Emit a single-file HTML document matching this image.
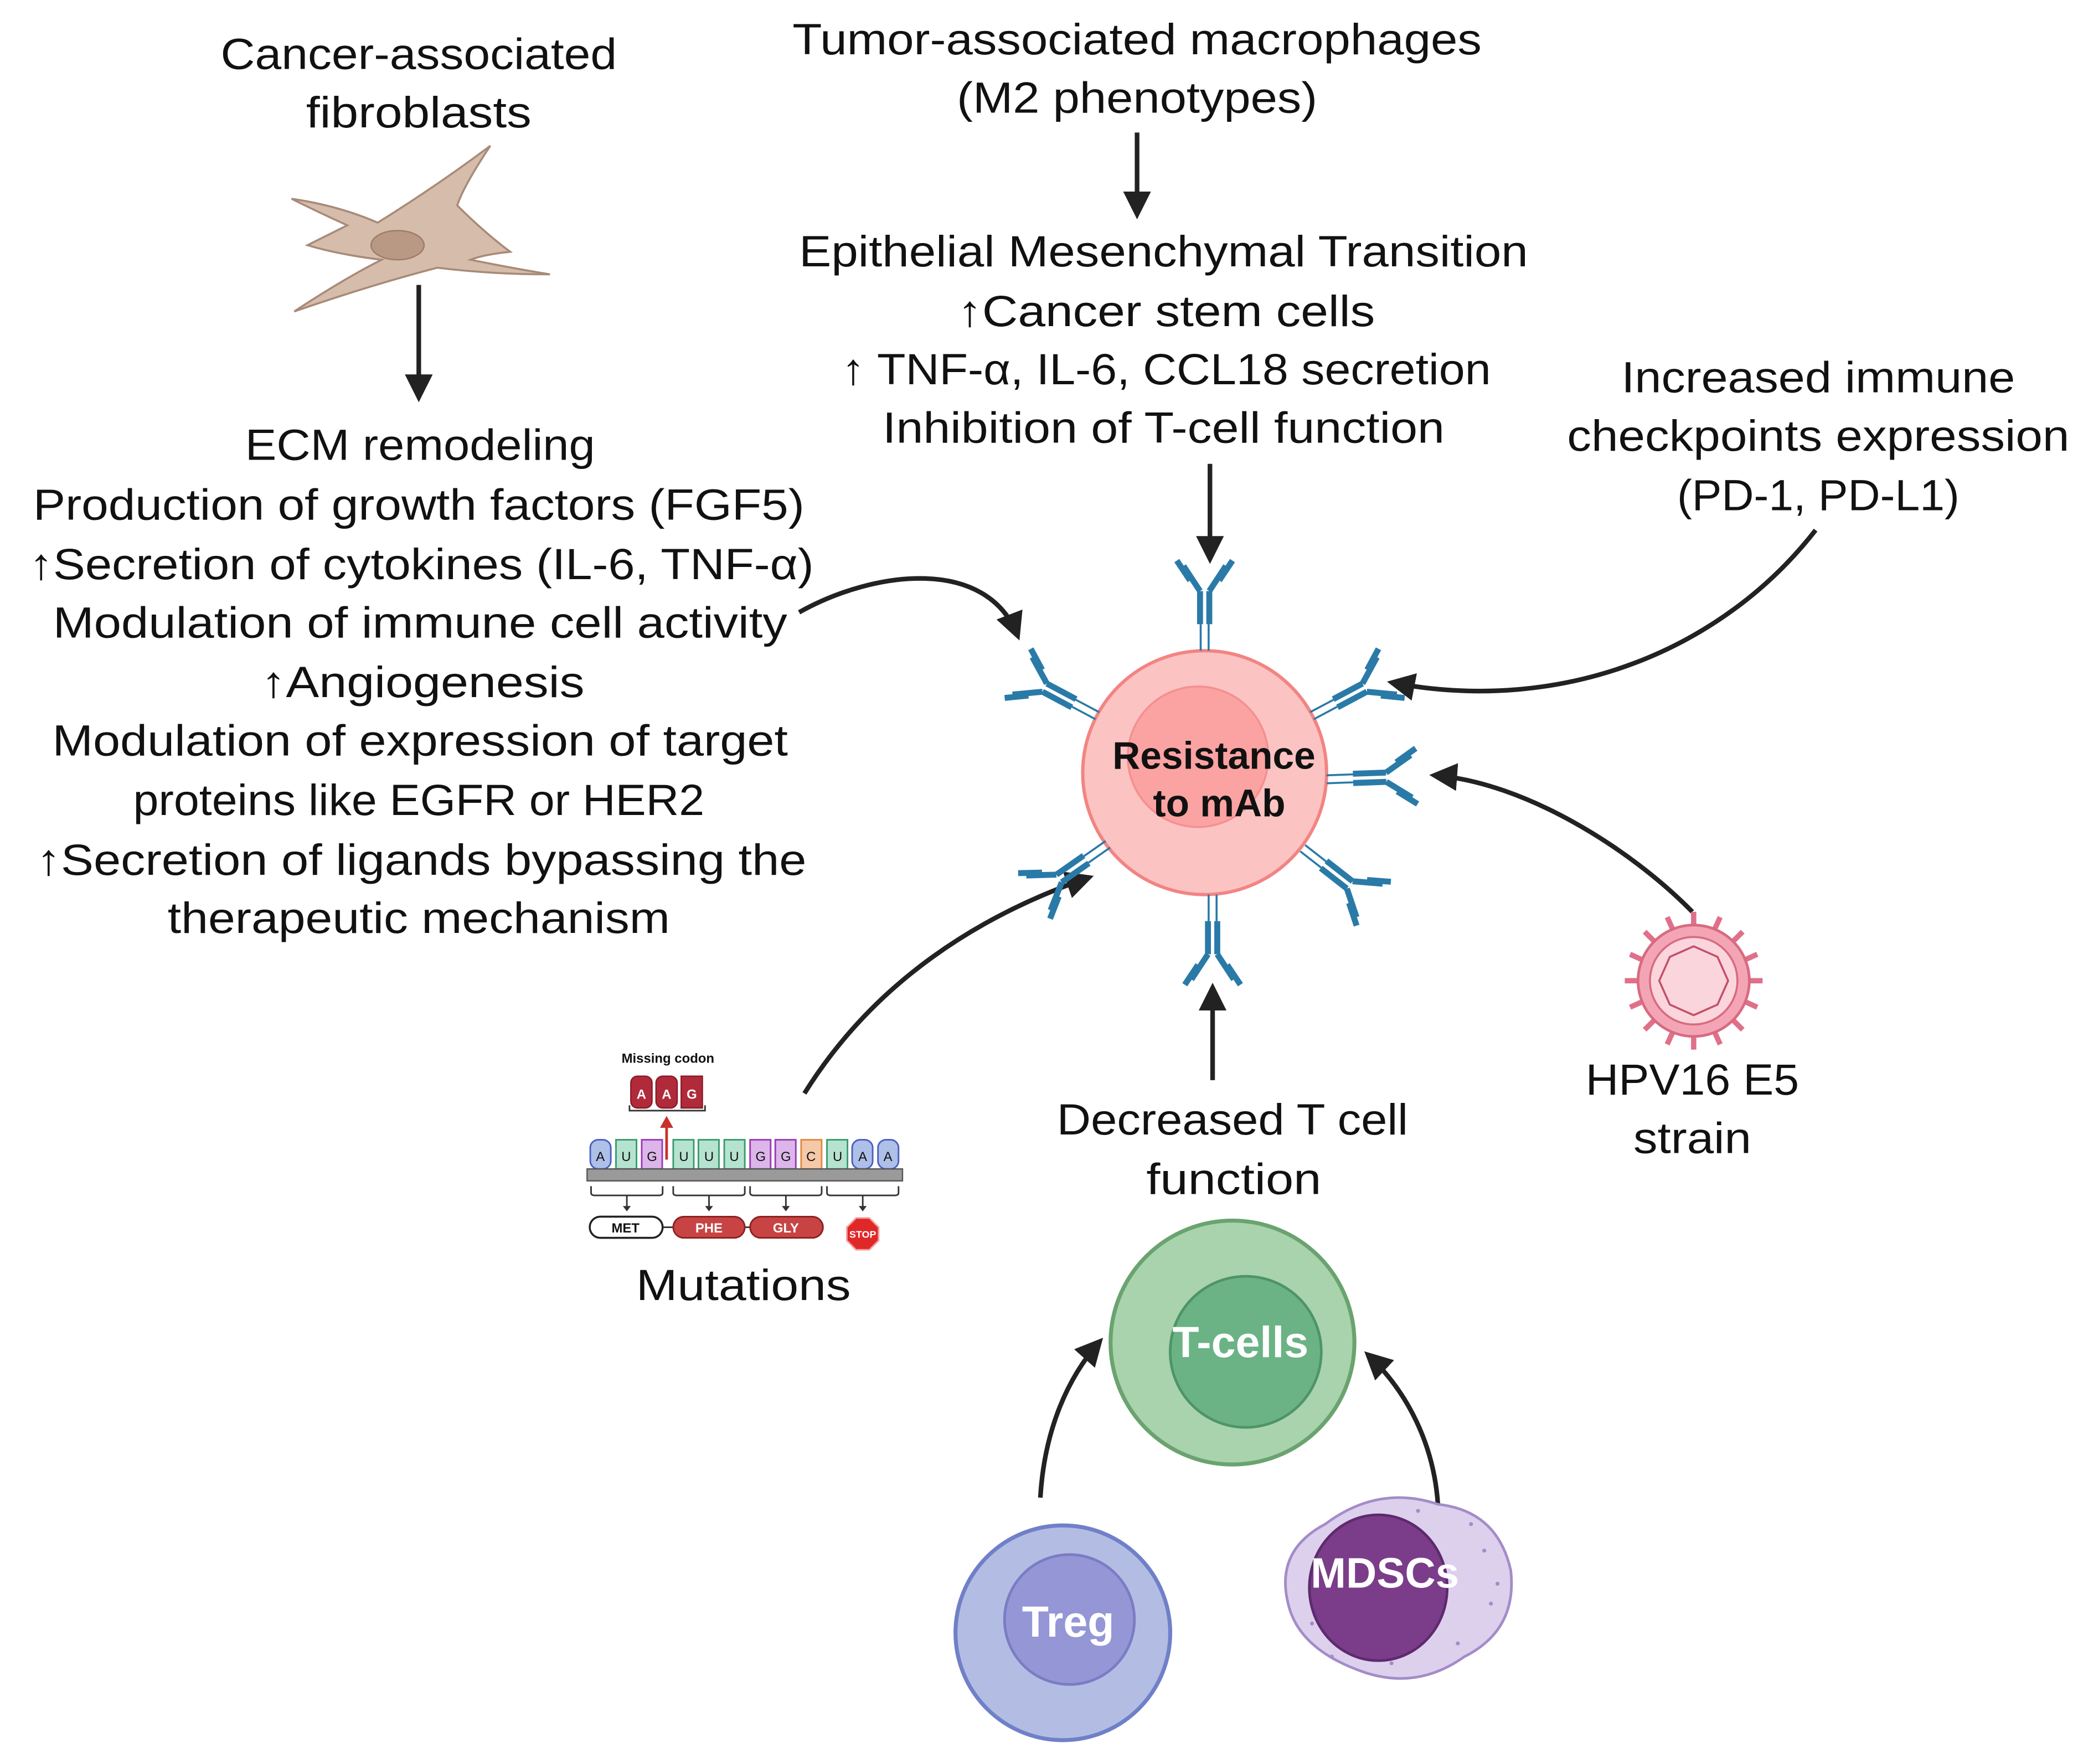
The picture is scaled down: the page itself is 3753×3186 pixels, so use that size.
<!DOCTYPE html>
<html><head><meta charset="utf-8"><style>
html,body{margin:0;padding:0;background:#fff;}
svg{display:block;}
text{font-family:"Liberation Sans",sans-serif;fill:#111;}
</style></head><body>
<svg width="3753" height="3186" viewBox="0 0 1568 1331" preserveAspectRatio="none" xmlns="http://www.w3.org/2000/svg">
<defs>
<marker id="ah" markerWidth="6" markerHeight="6" refX="5" refY="3" orient="auto" markerUnits="strokeWidth">
<path d="M0,0 L6,3 L0,6 z" fill="#222"/></marker>
<g id="ab" stroke="#2a7aa8" fill="none" stroke-linecap="butt">
<line x1="-3" y1="0" x2="-3" y2="-20" stroke-width="1.5"/>
<line x1="3" y1="0" x2="3" y2="-20" stroke-width="1.5"/>
<line x1="-3.5" y1="-20" x2="-3.5" y2="-45" stroke-width="4.5"/>
<line x1="3.5" y1="-20" x2="3.5" y2="-45" stroke-width="4.5"/>
<polyline points="-3.5,-45 -16,-64" stroke-width="4.5"/>
<polyline points="3.5,-45 16,-64" stroke-width="4.5"/>
<line x1="-11" y1="-53" x2="-21" y2="-68" stroke-width="4.5"/>
<line x1="11" y1="-53" x2="21" y2="-68" stroke-width="4.5"/>
</g>
</defs>
<rect width="1568" height="1331" fill="#fff"/>

<g font-size="33" text-anchor="middle">
<text x="316" y="52" textLength="299" lengthAdjust="spacingAndGlyphs">Cancer-associated</text>
<text x="316" y="96" textLength="170" lengthAdjust="spacingAndGlyphs">fibroblasts</text>
<text x="858" y="41" textLength="520" lengthAdjust="spacingAndGlyphs">Tumor-associated macrophages</text>
<text x="858" y="85" textLength="272" lengthAdjust="spacingAndGlyphs">(M2 phenotypes)</text>
<text x="878" y="201" textLength="550" lengthAdjust="spacingAndGlyphs">Epithelial Mesenchymal Transition</text>
<text x="880" y="246" textLength="315" lengthAdjust="spacingAndGlyphs">↑Cancer stem cells</text>
<text x="880" y="290" textLength="490" lengthAdjust="spacingAndGlyphs">↑ TNF-α, IL-6, CCL18 secretion</text>
<text x="878" y="334" textLength="424" lengthAdjust="spacingAndGlyphs">Inhibition of T-cell function</text>
<text x="1372" y="296" textLength="297" lengthAdjust="spacingAndGlyphs">Increased immune</text>
<text x="1372" y="340" textLength="379" lengthAdjust="spacingAndGlyphs">checkpoints expression</text>
<text x="1372" y="385" textLength="213" lengthAdjust="spacingAndGlyphs">(PD-1, PD-L1)</text>
<text x="317" y="347" textLength="264" lengthAdjust="spacingAndGlyphs">ECM remodeling</text>
<text x="316" y="392" textLength="582" lengthAdjust="spacingAndGlyphs">Production of growth factors (FGF5)</text>
<text x="318" y="437" textLength="592" lengthAdjust="spacingAndGlyphs">↑Secretion of cytokines (IL-6, TNF-α)</text>
<text x="317" y="481" textLength="554" lengthAdjust="spacingAndGlyphs">Modulation of immune cell activity</text>
<text x="319" y="526" textLength="244" lengthAdjust="spacingAndGlyphs">↑Angiogenesis</text>
<text x="317" y="570" textLength="555" lengthAdjust="spacingAndGlyphs">Modulation of expression of target</text>
<text x="316" y="615" textLength="431" lengthAdjust="spacingAndGlyphs">proteins like EGFR or HER2</text>
<text x="318" y="660" textLength="581" lengthAdjust="spacingAndGlyphs">↑Secretion of ligands bypassing the</text>
<text x="316" y="704" textLength="379" lengthAdjust="spacingAndGlyphs">therapeutic mechanism</text>
<text x="930" y="856" textLength="265" lengthAdjust="spacingAndGlyphs">Decreased T cell</text>
<text x="931" y="901" textLength="132" lengthAdjust="spacingAndGlyphs">function</text>
<text x="1277" y="826" textLength="161" lengthAdjust="spacingAndGlyphs">HPV16 E5</text>
<text x="1277" y="870" textLength="89" lengthAdjust="spacingAndGlyphs">strain</text>
<text x="561" y="981" textLength="162" lengthAdjust="spacingAndGlyphs">Mutations</text>
</g>

<!-- fibroblast -->
<path d="M220,150 Q255,155 285,168 Q330,140 370,110 Q350,140 345,155 Q365,175 385,190 Q365,192 355,196 Q390,203 415,207 Q370,207 330,202 Q280,215 222,235 Q260,210 288,196 Q255,192 232,185 Q250,176 262,170 Q240,160 220,150 Z" fill="#d6bcaa" stroke="#a88a78" stroke-width="1.5"/>
<ellipse cx="300" cy="185" rx="20" ry="11" fill="#b99884" stroke="#9c7c68"/>

<g stroke="#222" stroke-width="3.5" fill="none" marker-end="url(#ah)">
<line x1="316" y1="215" x2="316" y2="300"/>
<line x1="858" y1="100" x2="858" y2="162"/>
<line x1="913" y1="350" x2="913" y2="422"/>
<line x1="915" y1="815" x2="915" y2="745"/>
<path d="M603,462 C660,430 745,420 768,480"/>
<path d="M1370,400 C1300,490 1180,540 1050,515"/>
<path d="M1277,688 C1230,640 1150,590 1082,585"/>
<path d="M607,825 C660,740 740,690 822,662"/>
<path d="M785,1130 C788,1080 805,1040 830,1012"/>
<path d="M1085,1135 C1082,1090 1062,1050 1032,1022"/>
</g>

<circle cx="909" cy="583" r="92" fill="#fcc3c3" stroke="#f28482" stroke-width="2.5"/>
<circle cx="904" cy="571" r="53" fill="#fba3a3" stroke="#f58f8f" stroke-width="1.5"/>
<text x="916" y="580" font-size="29" font-weight="bold" text-anchor="middle">Resistance</text>
<text x="920" y="616" font-size="29" font-weight="bold" text-anchor="middle">to mAb</text>

<use href="#ab" transform="translate(909,491) rotate(0)"/>
<use href="#ab" transform="translate(828,540) rotate(-62)"/>
<use href="#ab" transform="translate(990,540) rotate(62)"/>
<use href="#ab" transform="translate(1001,588) rotate(88)"/>
<use href="#ab" transform="translate(983,640) rotate(128)"/>
<use href="#ab" transform="translate(915,675) rotate(180)"/>
<use href="#ab" transform="translate(836,637) rotate(-125)"/>

<g transform="translate(1278,740)">
<g stroke="#e0708a" stroke-width="4">
<line x1="0" y1="-52" x2="0" y2="-40"/><line x1="0" y1="52" x2="0" y2="40"/>
<line x1="-52" y1="0" x2="-40" y2="0"/><line x1="52" y1="0" x2="40" y2="0"/>
<line x1="-37" y1="-37" x2="-28" y2="-28"/><line x1="37" y1="37" x2="28" y2="28"/>
<line x1="37" y1="-37" x2="28" y2="-28"/><line x1="-37" y1="37" x2="-28" y2="28"/>
<line x1="-20" y1="-48" x2="-15" y2="-37"/><line x1="20" y1="48" x2="15" y2="37"/>
<line x1="20" y1="-48" x2="15" y2="-37"/><line x1="-20" y1="48" x2="-15" y2="37"/>
<line x1="-48" y1="-20" x2="-37" y2="-15"/><line x1="48" y1="20" x2="37" y2="15"/>
<line x1="48" y1="-20" x2="37" y2="-15"/><line x1="-48" y1="20" x2="-37" y2="15"/>
</g>
<circle r="42" fill="#f3a5b5" stroke="#d86a80" stroke-width="2"/>
<circle r="33" fill="#fbd5dc" stroke="#d86a80" stroke-width="1.5"/>
<path d="M0,-26 L18,-18 L26,0 L18,18 L0,26 L-18,18 L-26,0 L-18,-18 Z" fill="none" stroke="#c45068" stroke-width="1.5"/>
</g>

<circle cx="930" cy="1013" r="92" fill="#a8d3ad" stroke="#6aa36f" stroke-width="3"/>
<circle cx="940" cy="1020" r="57" fill="#6bb285" stroke="#4e9466" stroke-width="2"/>
<text x="936" y="1024" font-size="33" font-weight="bold" text-anchor="middle" style="fill:#fff">T-cells</text>

<circle cx="802" cy="1232" r="81" fill="#b3bde3" stroke="#7080c8" stroke-width="3"/>
<circle cx="807" cy="1222" r="49" fill="#9496d6" stroke="#7a7cc4" stroke-width="2"/>
<text x="806" y="1235" font-size="33" font-weight="bold" text-anchor="middle" style="fill:#fff">Treg</text>

<path d="M1000,1150 Q1040,1120 1085,1135 Q1130,1140 1140,1185 Q1145,1230 1105,1250 Q1070,1275 1030,1262 Q980,1245 972,1210 Q962,1170 1000,1150 Z" fill="#ddd0ec" stroke="#a38cc8" stroke-width="2"/>
<g fill="#a38cc8">
<circle cx="990" cy="1225" r="1.5"/><circle cx="1005" cy="1250" r="1.5"/><circle cx="1120" cy="1170" r="1.5"/><circle cx="1125" cy="1210" r="1.5"/><circle cx="1100" cy="1240" r="1.5"/><circle cx="1070" cy="1140" r="1.5"/><circle cx="1110" cy="1150" r="1.5"/><circle cx="1130" cy="1195" r="1.5"/><circle cx="1050" cy="1255" r="1.5"/>
</g>
<ellipse cx="1040" cy="1198" rx="52" ry="55" fill="#7b3d8a" stroke="#5e2a6e" stroke-width="2"/>
<text x="1045" y="1198" font-size="32" font-weight="bold" text-anchor="middle" style="fill:#fff">MDSCs</text>

<!-- mutation graphic -->
<text x="504" y="802" font-size="10" font-weight="bold" text-anchor="middle" fill="#333">Missing codon</text>
<g fill="#b02a3a" stroke="#8a1a28">
<rect x="476" y="812" width="16" height="24" rx="5"/>
<rect x="495" y="812" width="16" height="24" rx="5"/>
<rect x="514" y="812" width="16" height="24"/>
</g>
<text x="484" y="829" font-size="10" font-weight="bold" text-anchor="middle" style="fill:#fff">A</text>
<text x="503" y="829" font-size="10" font-weight="bold" text-anchor="middle" style="fill:#fff">A</text>
<text x="522" y="829" font-size="10" font-weight="bold" text-anchor="middle" style="fill:#fff">G</text>
<path d="M475,834 V838 H532 V834" fill="none" stroke="#333" stroke-width="1.2"/>
<line x1="503" y1="875" x2="503" y2="849" stroke="#c8302a" stroke-width="2"/>
<path d="M498,851 L503,842 L508,851 Z" fill="#c8302a"/>
<g stroke-width="1.2" font-size="10" text-anchor="middle">
<rect x="445.4" y="860" width="15.5" height="22" rx="6" fill="#aebfe8" stroke="#4a5fc0"/>
<rect x="464.8" y="860" width="15.5" height="22" fill="#b5e3d0" stroke="#3a9a70"/>
<rect x="484.2" y="860" width="15.5" height="22" fill="#dcb5ea" stroke="#9a3ab5"/>
<rect x="508" y="860" width="15.5" height="22" fill="#b5e3d0" stroke="#3a9a70"/>
<rect x="527" y="860" width="15.5" height="22" fill="#b5e3d0" stroke="#3a9a70"/>
<rect x="546.5" y="860" width="15.5" height="22" fill="#b5e3d0" stroke="#3a9a70"/>
<rect x="566" y="860" width="15.5" height="22" fill="#dcb5ea" stroke="#9a3ab5"/>
<rect x="585" y="860" width="15.5" height="22" fill="#dcb5ea" stroke="#9a3ab5"/>
<rect x="604.5" y="860" width="15.5" height="22" fill="#f5c8a8" stroke="#e08a40"/>
<rect x="624" y="860" width="15.5" height="22" fill="#b5e3d0" stroke="#3a9a70"/>
<rect x="643" y="860" width="15.5" height="22" rx="6" fill="#aebfe8" stroke="#4a5fc0"/>
<rect x="662.5" y="860" width="15.5" height="22" rx="6" fill="#aebfe8" stroke="#4a5fc0"/>
<text x="453" y="876">A</text><text x="472.5" y="876">U</text><text x="492" y="876">G</text>
<text x="516" y="876">U</text><text x="535" y="876">U</text><text x="554" y="876">U</text>
<text x="574" y="876">G</text><text x="593" y="876">G</text><text x="612" y="876">C</text>
<text x="632" y="876">U</text><text x="651" y="876">A</text><text x="670" y="876">A</text>
</g>
<rect x="443" y="882" width="238" height="9" fill="#9a9a9a" stroke="#555" stroke-width="1"/>
<g fill="none" stroke="#333" stroke-width="1.2">
<path d="M446,895 V900 Q446,902 449,902 H497 Q500,902 500,900 V895"/>
<path d="M508,895 V900 Q508,902 511,902 H559 Q562,902 562,900 V895"/>
<path d="M566,895 V900 Q566,902 569,902 H617 Q620,902 620,900 V895"/>
<path d="M624,895 V900 Q624,902 627,902 H675 Q678,902 678,900 V895"/>
<line x1="473" y1="902" x2="473" y2="912"/><line x1="535" y1="902" x2="535" y2="912"/>
<line x1="593" y1="902" x2="593" y2="912"/><line x1="651" y1="902" x2="651" y2="912"/>
<line x1="500" y1="926" x2="508" y2="926"/><line x1="562" y1="926" x2="566" y2="926"/>
</g>
<g fill="#333">
<path d="M470,910 L476,910 L473,914 Z"/><path d="M532,910 L538,910 L535,914 Z"/><path d="M590,910 L596,910 L593,914 Z"/><path d="M648,910 L654,910 L651,914 Z"/>
</g>
<rect x="445" y="918" width="55" height="16" rx="8" fill="#fff" stroke="#222" stroke-width="1.5"/>
<rect x="508" y="918" width="54" height="16" rx="8" fill="#c84444" stroke="#8a2020" stroke-width="1.2"/>
<rect x="566" y="918" width="55" height="16" rx="8" fill="#c84444" stroke="#8a2020" stroke-width="1.2"/>
<text x="472" y="930" font-size="10" font-weight="bold" text-anchor="middle">MET</text>
<text x="535" y="930" font-size="10" font-weight="bold" text-anchor="middle" style="fill:#fff">PHE</text>
<text x="593" y="930" font-size="10" font-weight="bold" text-anchor="middle" style="fill:#fff">GLY</text>
<path d="M646,919 L656,919 L663,926 L663,936 L656,943 L646,943 L639,936 L639,926 Z" fill="#e02828" stroke="#f4a0a0" stroke-width="1.2"/>
<text x="651" y="934" font-size="7.5" font-weight="bold" text-anchor="middle" style="fill:#fff">STOP</text>
</svg>
</body></html>
